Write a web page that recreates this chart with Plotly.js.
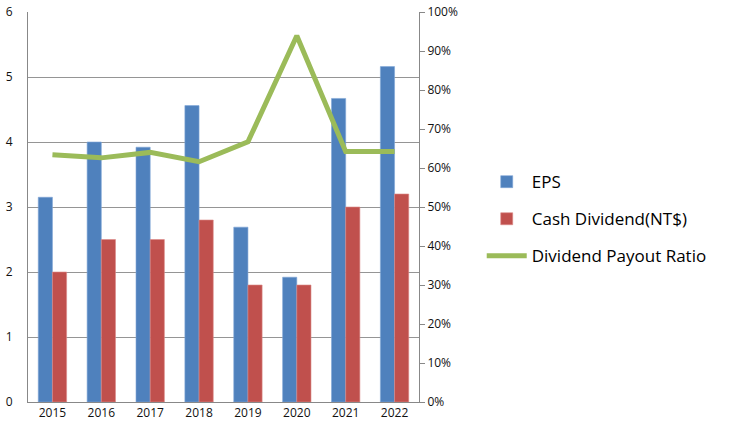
<!DOCTYPE html>
<html>
<head>
<meta charset="utf-8">
<script src="https://cdn.plot.ly/plotly-3.0.1.min.js"></script>
<style>html,body{margin:0;padding:0;background:#fff;}#chart{width:731px;height:433px;}</style>
</head>
<body>
<div id="chart"></div>
<script>
const years = ["2015","2016","2017","2018","2019","2020","2021","2022"];
const eps = [3.15, 4.00, 3.92, 4.56, 2.69, 1.92, 4.67, 5.16];
const cashDividend = [2.0, 2.5, 2.5, 2.8, 1.8, 1.8, 3.0, 3.2];
const payoutRatio = [0.634, 0.626, 0.640, 0.616, 0.667, 0.939, 0.642, 0.642];
const leftTicks = [0,1,2,3,4,5,6];
const rightTicks = [0,0.1,0.2,0.3,0.4,0.5,0.6,0.7,0.8,0.9,1.0];

const FONT = "Open Sans, Noto Sans, sans-serif";
const traces = [
  {type:"bar", name:"EPS", x:years, y:eps, legendgroup:"a",
   marker:{color:"#4F81BD", line:{color:"#7FA6D6", width:0.6}}},
  {type:"bar", name:"Cash Dividend(NT$)", x:years, y:cashDividend, legendgroup:"b",
   marker:{color:"#C0504D", line:{color:"#DC8A88", width:0.6}}},
  {type:"scatter", mode:"lines", name:"Dividend Payout Ratio", x:years, y:payoutRatio,
   yaxis:"y2", legendgroup:"c", line:{color:"#9BBB59", width:5}}
];
const layout = {
  width:731, height:433,
  margin:{l:28, r:311.5, t:12, b:30.5},
  paper_bgcolor:"#fff", plot_bgcolor:"#fff",
  barmode:"group", bargap:0.42, bargroupgap:0,
  font:{family:FONT, size:12, color:"#111"},
  xaxis:{type:"category", showline:true, linecolor:"#888", linewidth:1,
         showgrid:false, ticks:"", tickfont:{size:12, color:"#111"}, fixedrange:true},
  yaxis:{range:[0,6], tickvals:leftTicks, ticktext:leftTicks.map(String),
         showline:true, linecolor:"#888", linewidth:1, showgrid:true,
         gridcolor:"#959595", gridwidth:1, ticks:"", ticklabelstandoff:12,
         zeroline:false, tickfont:{size:12, color:"#111"}},
  yaxis2:{overlaying:"y", side:"right", range:[0,1], tickvals:rightTicks,
          ticktext:rightTicks.map(v=>Math.round(v*100)+"%"),
          showline:true, linecolor:"#888", linewidth:1, showgrid:false,
          ticks:"outside", ticklen:5, tickcolor:"#888", zeroline:false,
          tickfont:{size:12, color:"#111"}},
  showlegend:true,
  legend:{xref:"container", yref:"container", x:0.659, y:0.621, xanchor:"left", yanchor:"top",
          font:{family:FONT, size:17, color:"#000"}, traceorder:"grouped",
          tracegroupgap:12, itemwidth:40, bgcolor:"rgba(0,0,0,0)"}
};
Plotly.newPlot("chart", traces, layout, {displayModeBar:false, staticPlot:true});
</script>
</body>
</html>
